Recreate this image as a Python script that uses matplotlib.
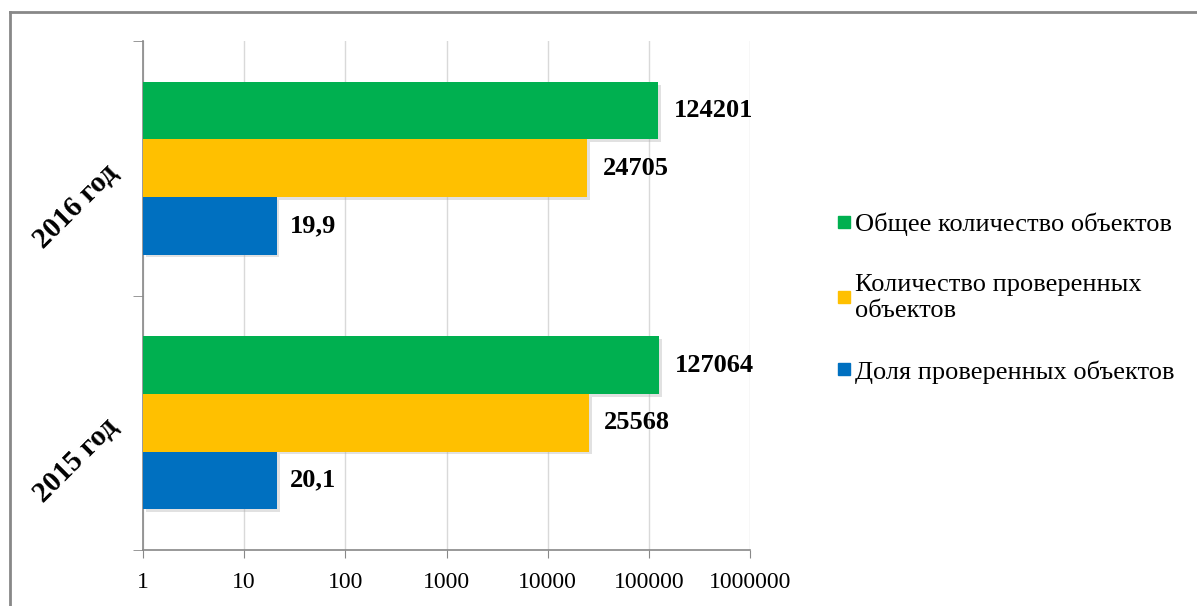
import numpy as np
import matplotlib
matplotlib.use('Agg')
import matplotlib.pyplot as plt
import matplotlib.patheffects as pe
from matplotlib.lines import Line2D

plt.rcParams['font.family'] = ['Liberation Serif', 'DejaVu Serif']

years = ['2015 год', '2016 год']
total = [127064, 124201]
checked = [25568, 24705]
share = [20.1, 19.9]
share_text = ['20,1', '19,9']
series_names = ['Общее количество объектов',
                'Количество проверенных\nобъектов',
                'Доля проверенных объектов']
colors = ['#00B050', '#FFC000', '#0070C0']
xticks = [1, 10, 100, 1000, 10000, 100000, 1000000]

fig = plt.figure(figsize=(11.97, 6.06), dpi=100)
ax = fig.add_axes([143 / 1197, 1 - 550 / 606, (750 - 143) / 1197, (550 - 41) / 606])

y = np.arange(len(years))
h = 0.226
shadow = [pe.SimplePatchShadow(offset=(2, -2), shadow_rgbFace='#aaaaaa', alpha=0.35), pe.Normal()]

series = [total, checked, share]
labels = [[str(v) for v in total], [str(v) for v in checked], share_text]
offsets = [h, 0, -h]
for vals, txt, off, c in zip(series, labels, offsets, colors):
    bars = ax.barh(y + off, vals, height=h, left=1, color=c, zorder=3)
    for b in bars:
        b.set_path_effects(shadow)
    for yy, v, t in zip(y + off, vals, txt):
        ax.annotate(t, (v, yy), xytext=(11, 0), textcoords='offset points',
                    va='center', ha='left', fontsize=19, fontweight='bold', zorder=4)

ax.set_xscale('log')
ax.set_xlim(1, 1e6)
ax.set_ylim(-0.5, 1.5)
ax.set_xticks(xticks)
ax.set_xticklabels([str(t) for t in xticks], fontsize=17)
ax.xaxis.set_minor_locator(matplotlib.ticker.NullLocator())
ax.tick_params(axis='x', length=6, color='#888888', pad=10)
ax.grid(axis='x', color='#d9d9d9', lw=1, zorder=0)

ax.set_yticks(y)
ax.set_yticklabels(years, rotation=45, fontsize=21, fontweight='bold',
                   va='center', ha='right', rotation_mode='anchor')
ax.set_yticks([-0.5, 0.5, 1.5], minor=True)
ax.tick_params(axis='y', which='major', length=0, pad=21)
ax.tick_params(axis='y', which='minor', length=7, color='#888888')

for s in ['top', 'right']:
    ax.spines[s].set_visible(False)
for s in ['left', 'bottom']:
    ax.spines[s].set_color('#888888')
    ax.spines[s].set_linewidth(1.2)

handles = [Line2D([], [], marker='s', linestyle='none', markersize=9,
                  markerfacecolor=c, markeredgecolor=c) for c in colors]
fig.legend(handles, series_names, loc='center left',
           bbox_to_anchor=(837 / 1197, 1 - 298 / 606), frameon=False,
           fontsize=19, handlelength=0.5, handletextpad=0.2, labelspacing=1.46,
           borderaxespad=0, borderpad=0)

# рамка вокруг диаграммы
fig.add_artist(Line2D([10 / 1197, 1], [1 - 12 / 606, 1 - 12 / 606],
                      transform=fig.transFigure, color='#888888', lw=2))
fig.add_artist(Line2D([10 / 1197, 10 / 1197], [0, 1 - 12 / 606],
                      transform=fig.transFigure, color='#888888', lw=2))

fig.savefig('out.png', dpi=100)
